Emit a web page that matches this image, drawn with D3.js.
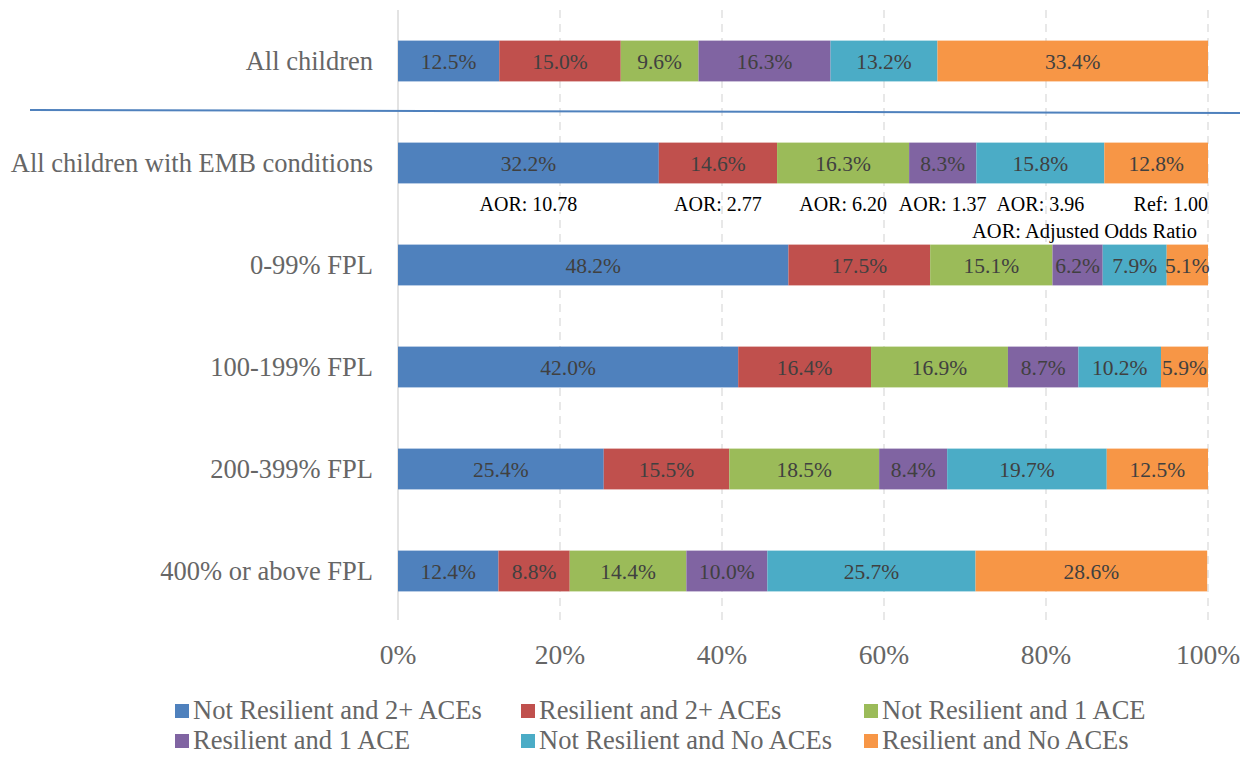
<!DOCTYPE html>
<html>
<head>
<meta charset="utf-8">
<script src="https://cdn.jsdelivr.net/npm/d3@7/dist/d3.min.js"></script>
<style>
  html, body { margin: 0; padding: 0; background: #fff; }
  svg { display: block; font-family: "Liberation Serif", "Times New Roman", serif; }
</style>
</head>
<body>
<svg id="chart" width="1256" height="758"></svg>
<script>
// Row groups (top to bottom)
const categories = [
  "All children",
  "All children with EMB conditions",
  "0-99% FPL",
  "100-199% FPL",
  "200-399% FPL",
  "400% or above FPL"
];

// Series (stack order, left to right)
const seriesNames = [
  "Not Resilient and 2+ ACEs",
  "Resilient and 2+ ACEs",
  "Not Resilient and 1 ACE",
  "Resilient and 1 ACE",
  "Not Resilient and No ACEs",
  "Resilient and No ACEs"
];
const seriesColors = ["#4F81BD", "#C0504D", "#9BBB59", "#8064A2", "#4BACC6", "#F79646"];

// Percent values per series, one entry per category
const notResilient2Aces = [12.5, 32.2, 48.2, 42.0, 25.4, 12.4];
const resilient2Aces    = [15.0, 14.6, 17.5, 16.4, 15.5, 8.8];
const notResilient1Ace  = [9.6, 16.3, 15.1, 16.9, 18.5, 14.4];
const resilient1Ace     = [16.3, 8.3, 6.2, 8.7, 8.4, 10.0];
const notResilientNoAce = [13.2, 15.8, 7.9, 10.2, 19.7, 25.7];
const resilientNoAce    = [33.4, 12.8, 5.1, 5.9, 12.5, 28.6];
const seriesValues = [notResilient2Aces, resilient2Aces, notResilient1Ace,
                      resilient1Ace, notResilientNoAce, resilientNoAce];

// Adjusted odds ratios shown under the EMB row
const aorLabels = ["AOR: 10.78", "AOR: 2.77", "AOR: 6.20", "AOR: 1.37", "AOR: 3.96", "Ref: 1.00"];
const aorNote = "AOR: Adjusted Odds Ratio";

const xTicks = [0, 20, 40, 60, 80, 100];

const svg = d3.select("#chart");

const x = d3.scaleLinear().domain([0, 100]).range([398, 1208]);
const y = d3.scaleBand().domain(categories).range([10, 622])
  .paddingInner(0.6).paddingOuter(0.3);

// Build table for the stack layout
const table = categories.map((c, i) => {
  const row = { category: c };
  seriesNames.forEach((s, j) => { row[s] = seriesValues[j][i]; });
  return row;
});
const stacked = d3.stack().keys(seriesNames)(table);

// Vertical gridlines
svg.append("g").selectAll("line")
  .data(xTicks.filter(t => t > 0))
  .join("line")
  .attr("x1", d => x(d)).attr("x2", d => x(d))
  .attr("y1", 10).attr("y2", 620)
  .attr("stroke", "#d9d9d9").attr("stroke-width", 1.2)
  .attr("stroke-dasharray", "8,6");

// Category axis line at 0%
svg.append("line")
  .attr("x1", x(0)).attr("x2", x(0))
  .attr("y1", 10).attr("y2", 620)
  .attr("stroke", "#d0d0d0").attr("stroke-width", 1.2);

// Bars
const layers = svg.append("g").selectAll("g")
  .data(stacked)
  .join("g")
  .attr("fill", (d, i) => seriesColors[i]);

layers.selectAll("rect")
  .data(d => d)
  .join("rect")
  .attr("x", d => x(d[0]))
  .attr("width", d => x(Math.min(d[1], 100)) - x(d[0]))
  .attr("y", d => y(d.data.category))
  .attr("height", y.bandwidth());

// Value labels inside segments
layers.selectAll("text")
  .data(d => d.map(p => ({ p, key: d.key })))
  .join("text")
  .attr("x", d => x((d.p[0] + Math.min(d.p[1], 100)) / 2))
  .attr("y", d => y(d.p.data.category) + y.bandwidth() / 2)
  .attr("dy", "0.35em")
  .attr("text-anchor", "middle")
  .attr("font-size", 21.5)
  .attr("fill", "#404040")
  .text(d => d.p.data[d.key].toFixed(1) + "%");

// Category labels
svg.append("g").selectAll("text")
  .data(categories)
  .join("text")
  .attr("x", 373)
  .attr("y", d => y(d) + y.bandwidth() / 2)
  .attr("dy", "0.35em")
  .attr("text-anchor", "end")
  .attr("font-size", 26.5)
  .attr("fill", "#666666")
  .text(d => d);

// AOR labels under the EMB row, centred on each segment (reference at the bar end)
const embRow = 1;
const aorY = y(categories[embRow]) + y.bandwidth() + 28;
svg.append("g").selectAll("text")
  .data(stacked)
  .join("text")
  .attr("x", (d, i) => i === stacked.length - 1 ? x(100) : x((d[embRow][0] + d[embRow][1]) / 2))
  .attr("y", aorY)
  .attr("text-anchor", (d, i) => i === stacked.length - 1 ? "end" : "middle")
  .attr("font-size", 20)
  .attr("fill", "#000")
  .text((d, i) => aorLabels[i]);

svg.append("text")
  .attr("x", 1197).attr("y", aorY + 27)
  .attr("text-anchor", "end")
  .attr("font-size", 20.5)
  .attr("fill", "#000")
  .text(aorNote);

// Separator between overall row and EMB rows
svg.append("line")
  .attr("x1", 30).attr("y1", 110)
  .attr("x2", 1240).attr("y2", 113)
  .attr("stroke", "#4F81BD").attr("stroke-width", 2);

// X axis tick labels
svg.append("g").selectAll("text")
  .data(xTicks)
  .join("text")
  .attr("x", d => x(d))
  .attr("y", 664)
  .attr("text-anchor", "middle")
  .attr("font-size", 27.5)
  .attr("fill", "#666666")
  .text(d => d + "%");

// Legend
const legendCols = [175, 521, 864];
const legendRows = [719, 749];
const legend = svg.append("g").selectAll("g")
  .data(seriesNames)
  .join("g")
  .attr("transform", (d, i) => `translate(${legendCols[i % 3]},${legendRows[Math.floor(i / 3)]})`);
legend.append("rect")
  .attr("x", 0).attr("y", -15)
  .attr("width", 14).attr("height", 14)
  .attr("fill", (d, i) => seriesColors[i]);
legend.append("text")
  .attr("x", 18).attr("y", 0)
  .attr("font-size", 26.5)
  .attr("fill", "#666666")
  .text(d => d);
</script>
</body>
</html>
